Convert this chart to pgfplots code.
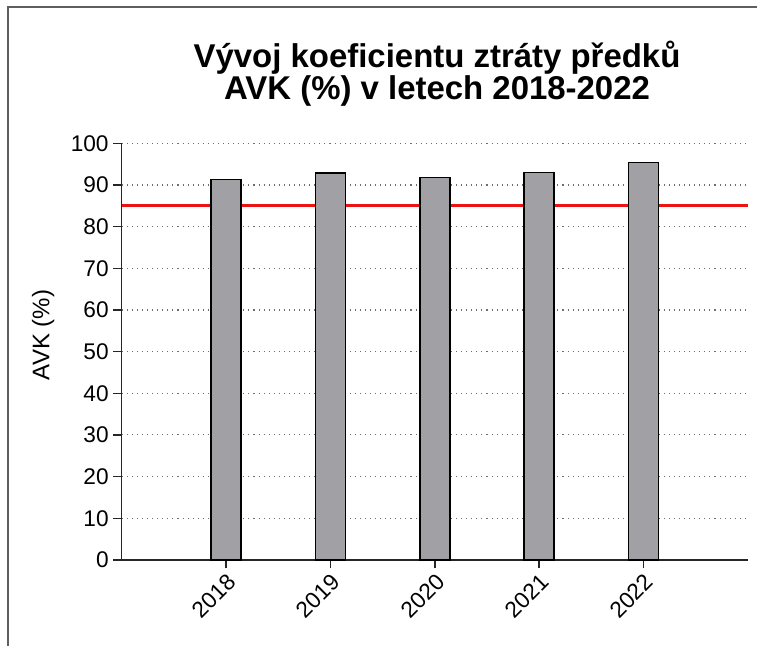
\documentclass[border=0pt]{standalone}
\usepackage{fontspec}
\setmainfont{Liberation Sans}
\usepackage{pgfplots}
\pgfplotsset{compat=1.18}

\definecolor{barfill}{RGB}{161,161,165}
\definecolor{framegray}{RGB}{95,95,95}
\definecolor{gridgray}{RGB}{110,110,110}
\definecolor{refred}{RGB}{235,20,20}

\begin{document}
\begin{tikzpicture}
% page = 757 x 646 px at 0.75pt per px, axis origin at px (121.7, 560)
\path[use as bounding box] (-91.3pt,-64.5pt) rectangle (476.5pt,420pt);
\draw[framegray, line width=1.5pt] (-85.3pt,-70pt) -- (-85.3pt,414.75pt) -- (480pt,414.75pt);

\begin{axis}[
    at={(0,0)}, anchor=origin,
    scale only axis,
    width=469.7pt, height=312.5pt,
    xmin=0, xmax=6,
    ymin=0, ymax=100,
    axis lines*=left,
    axis line style={black!85, line width=1.1pt},
    tick align=outside,
    major tick length=6.3pt,
    tick style={black!85, line width=1.1pt},
    xtick={1,2,3,4,5},
    xticklabels={2018,2019,2020,2021,2022},
    ytick={0,10,...,100},
    ymajorgrids,
    grid style={gridgray, line width=0.8pt, dash pattern=on 0.8pt off 3pt},
    /pgf/number format/assume math mode=true,
    tick label style={font=\fontsize{17}{19}\selectfont},
    xticklabel style={rotate=45, anchor=north east, inner sep=2pt, font=\fontsize{17}{19}\selectfont},
    clip=false,
]
\addplot[refred, line width=2.2pt, forget plot] coordinates {(0,85) (6,85)};
\addplot[ybar, bar width=0.288, fill=barfill, draw=black, line width=1.3pt]
    coordinates {(1,91.3) (2,92.8) (3,91.8) (4,93.0) (5,95.4)};
\draw[black!85, line width=1.1pt] (axis cs:0,0) ++(-6.3pt,0) -- (axis cs:0,0);
\end{axis}

\node[anchor=base, font=\bfseries\fontsize{24.7}{26}\selectfont] at (236.5pt,369.5pt)
    {Vývoj koeficientu ztráty předků};
\node[anchor=base, font=\bfseries\fontsize{24.7}{26}\selectfont] at (236.5pt,345pt)
    {AVK (\%) v letech 2018-2022};
\node[rotate=90, font=\fontsize{18}{20}\selectfont] at (-59pt,168.75pt) {AVK (\%)};
\end{tikzpicture}
\end{document}
